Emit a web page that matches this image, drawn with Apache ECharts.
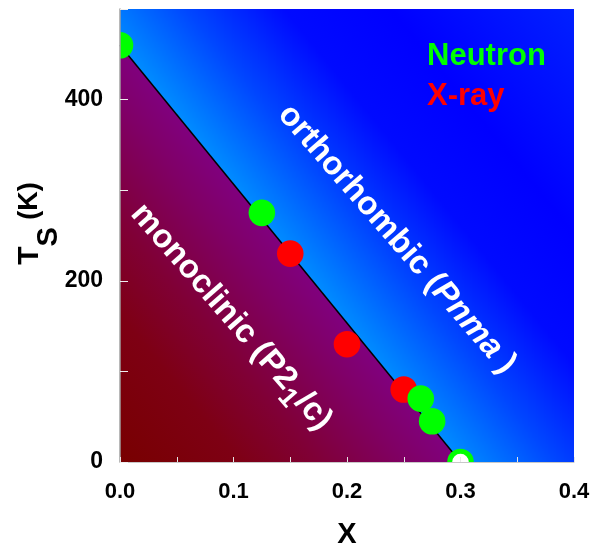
<!DOCTYPE html>
<html>
<head>
<meta charset="utf-8">
<script src="https://cdn.jsdelivr.net/npm/echarts@6/dist/echarts.min.js"></script>
<style>
  html, body { margin: 0; padding: 0; background: #ffffff; }
  #chart { width: 602px; height: 546px; }
</style>
</head>
<body>
<div id="chart"></div>
<script>
// Structural transition temperature T_S versus doping X

// Phase boundary between the monoclinic and orthorhombic phases
const boundaryX = [0, 0.3];
const boundaryT = [460, 0];

// Neutron diffraction transition temperatures
const neutronX = [0, 0.125, 0.265, 0.275];
const neutronT = [460, 275, 70, 45];

// Composition where the transition is fully suppressed (neutron)
const criticalX = [0.3];
const criticalT = [0];

// X-ray diffraction transition temperatures
const xrayX = [0.15, 0.2, 0.25];
const xrayT = [230, 130, 80];

// Axis tick labels
const xTickLabels = ['0.0', '0.1', '0.2', '0.3', '0.4'];
const yTickLabels = ['0', '200', '400'];

const X_MIN = 0, X_MAX = 0.4, T_MIN = 0, T_MAX = 500;
const FONT = '"Liberation Sans", Arial, Helvetica, sans-serif';

const pairs = (xs, ys) => xs.map((x, i) => [x, ys[i]]);

function findLabel(list, v) {
  const hit = list.find(t => Math.abs(parseFloat(t) - v) < 1e-6);
  return hit === undefined ? '' : hit;
}

// Two shaded phase regions split by the boundary line
function phaseRegions(params, api) {
  const p1 = api.coord([boundaryX[0], boundaryT[0]]);
  const p2 = api.coord([boundaryX[1], boundaryT[1]]);
  const bl = api.coord([X_MIN, T_MIN]);
  const tl = api.coord([X_MIN, T_MAX]);
  const tr = api.coord([X_MAX, T_MAX]);
  const br = api.coord([X_MAX, T_MIN]);
  let nx = p2[1] - p1[1], ny = -(p2[0] - p1[0]);
  const len = Math.hypot(nx, ny);
  nx /= len; ny /= len;
  const dist = p => (p[0] - p1[0]) * nx + (p[1] - p1[1]) * ny;
  const dOrth = dist(tr);
  const dMono = -dist(bl);
  const orthGrad = new echarts.graphic.LinearGradient(
    p1[0], p1[1], p1[0] + nx * dOrth, p1[1] + ny * dOrth,
    [
      { offset: 0, color: '#008cff' },
      { offset: 0.2, color: '#0046ff' },
      { offset: 0.4, color: '#000aff' },
      { offset: 0.62, color: '#0000ff' },
      { offset: 1, color: '#0020ff' }
    ], true);
  const monoGrad = new echarts.graphic.LinearGradient(
    p1[0], p1[1], p1[0] - nx * dMono, p1[1] - ny * dMono,
    [
      { offset: 0, color: '#80007e' },
      { offset: 0.15, color: '#800066' },
      { offset: 0.42, color: '#800036' },
      { offset: 0.65, color: '#7e0014' },
      { offset: 1, color: '#780000' }
    ], true);
  return {
    type: 'group',
    children: [
      { type: 'polygon', shape: { points: [bl, p1, p2] }, style: { fill: monoGrad } },
      { type: 'polygon', shape: { points: [p1, tl, tr, br, p2] }, style: { fill: orthGrad } }
    ]
  };
}

// Rotated phase names
function phaseNames(params, api) {
  const rot = -49 * Math.PI / 180;
  const base = { fill: '#ffffff', fontSize: 33, fontWeight: 'bold', fontFamily: FONT };
  const orth = api.coord([0.244, 246]);
  const mono = api.coord([0.098, 160]);
  return {
    type: 'group',
    children: [
      {
        type: 'text', x: orth[0], y: orth[1], rotation: rot,
        style: Object.assign({}, base, {
          text: 'orthorhombic ({i|Pnma} )',
          align: 'center', verticalAlign: 'middle',
          rich: { i: Object.assign({}, base, { fontStyle: 'italic' }) }
        })
      },
      {
        type: 'text', x: mono[0], y: mono[1], rotation: rot,
        style: Object.assign({}, base, {
          text: 'monoclinic (P2{s|1}/c)',
          align: 'center', verticalAlign: 'middle',
          rich: { s: Object.assign({}, base, { fontSize: 27, padding: [22, 0, 0, 0] }) }
        })
      }
    ]
  };
}

function dot(color) {
  return function (params, api) {
    const c = api.coord([api.value(0), api.value(1)]);
    return { type: 'circle', shape: { cx: c[0], cy: c[1], r: 13.3 }, style: { fill: color } };
  };
}

function ring(color) {
  return function (params, api) {
    const c = api.coord([api.value(0), api.value(1)]);
    return {
      type: 'circle', shape: { cx: c[0], cy: c[1], r: 10.8 },
      style: { fill: '#ffffff', stroke: color, lineWidth: 5 }
    };
  };
}

const chart = echarts.init(document.getElementById('chart'), null, { renderer: 'canvas' });

const labelFont = { color: '#000', fontWeight: 'bold', fontFamily: FONT };

chart.setOption({
  animation: false,
  backgroundColor: '#ffffff',
  grid: { left: 120, right: 28, top: 9, bottom: 84, containLabel: false, outerBoundsMode: 'none' },
  legend: {
    left: 417, top: 36, orient: 'vertical',
    icon: 'circle', itemWidth: 0, itemHeight: 0, itemGap: 9,
    selectedMode: false,
    textStyle: { fontSize: 31, fontWeight: 'bold', fontFamily: FONT, lineHeight: 31 },
    data: [
      { name: 'Neutron', textStyle: { color: '#00ff00' } },
      { name: 'X-ray', textStyle: { color: '#ff0000' } }
    ]
  },
  xAxis: {
    type: 'value', min: X_MIN, max: X_MAX, interval: 0.05, z: 10,
    axisLine: { show: true, onZero: false, lineStyle: { color: '#c8c8c8', width: 1 } },
    axisTick: { show: true, inside: true, length: 5, lineStyle: { color: '#e6e6e6', width: 1 } },
    axisLabel: Object.assign({ margin: 19, fontSize: 22, formatter: v => findLabel(xTickLabels, v) }, labelFont),
    splitLine: { show: false },
    name: 'X', nameLocation: 'middle', nameGap: 58, nameMoveOverlap: false,
    nameTextStyle: { color: '#000', fontSize: 29, fontWeight: 'bold', fontFamily: FONT }
  },
  yAxis: {
    type: 'value', min: T_MIN, max: T_MAX, interval: 100, z: 10,
    axisLine: { show: true, onZero: false, lineStyle: { color: '#a0a0a0', width: 1.5 } },
    axisTick: { show: true, inside: true, length: 8, lineStyle: { color: '#eeeeee', width: 1 } },
    axisLabel: Object.assign({ margin: 17, fontSize: 23, formatter: v => findLabel(yTickLabels, v) }, labelFont),
    splitLine: { show: false },
    name: '{t|T}{s|S}{k| (K)}', nameLocation: 'middle', nameRotate: 90, nameGap: 57,
    nameMoveOverlap: false,
    nameTextStyle: {
      color: '#000', fontSize: 29, fontWeight: 'bold', fontFamily: FONT,
      padding: [0, 0, 0, 24],
      rich: {
        t: { color: '#000', fontSize: 30, fontWeight: 'bold', fontFamily: FONT },
        s: { color: '#000', fontSize: 29, fontWeight: 'bold', fontFamily: FONT, padding: [38, 0, 0, 0] },
        k: { color: '#000', fontSize: 27, fontWeight: 'bold', fontFamily: FONT }
      }
    }
  },
  series: [
    {
      name: 'regions', type: 'custom', renderItem: phaseRegions,
      data: [[X_MIN, T_MIN]], silent: true, z: 1
    },
    {
      name: 'boundary', type: 'line', data: pairs(boundaryX, boundaryT),
      symbol: 'none', lineStyle: { color: '#000000', width: 1.5 }, z: 2, silent: true
    },
    {
      name: 'phases', type: 'custom', renderItem: phaseNames,
      data: [[X_MIN, T_MIN]], silent: true, z: 3
    },
    {
      name: 'X-ray', type: 'custom', renderItem: dot('#ff0000'), clip: true,
      data: pairs(xrayX, xrayT), encode: { x: 0, y: 1 }, z: 4
    },
    {
      name: 'Neutron', type: 'custom', renderItem: dot('#00ff00'), clip: true,
      data: pairs(neutronX, neutronT), encode: { x: 0, y: 1 }, z: 5
    },
    {
      name: 'Neutron', type: 'custom', renderItem: ring('#00ff00'), clip: true,
      data: pairs(criticalX, criticalT), encode: { x: 0, y: 1 }, z: 5
    }
  ]
});
</script>
</body>
</html>
